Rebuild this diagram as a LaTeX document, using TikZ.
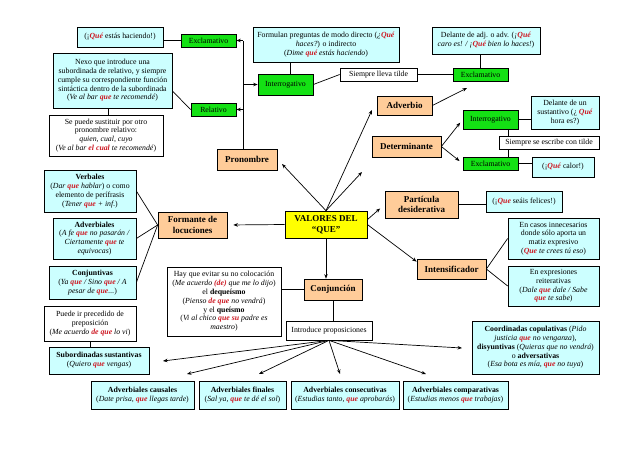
\documentclass[tikz,border=0pt]{standalone}
\usepackage{fontspec}
\setmainfont{Liberation Serif}
\usetikzlibrary{arrows.meta}
\definecolor{cajaazul}{RGB}{204,255,255}
\definecolor{cajaverde}{RGB}{20,225,20}
\definecolor{cajanaranja}{RGB}{255,204,153}
\definecolor{cajaamarilla}{RGB}{255,255,0}
\definecolor{rojoque}{RGB}{205,25,35}
\newcommand{\rojo}[1]{\textcolor{rojoque}{\textbf{\textit{#1}}}}
\begin{document}
\begin{tikzpicture}[line width=.7pt, >={Stealth[length=4.5pt,width=3.5pt]},
    every node/.style={draw, line width=.7pt, align=center, inner sep=1pt,
      font=\fontsize{7.8}{8.8}\selectfont},
    azul/.style={fill=cajaazul},
    verde/.style={fill=cajaverde},
    blanco/.style={fill=white},
    valor/.style={fill=cajanaranja, font=\fontsize{9}{10.7}\selectfont\bfseries},
    wh/.style 2 args={minimum width=#1pt, minimum height=#2pt}]
        \def\x{1pt}
        \def\y{-1pt}
        \useasboundingbox (0,0) rectangle (638*\x, 451*\y);
        % centro
        \node [fill=cajaamarilla, wh={82}{27}, font=\fontsize{9}{10.7}\selectfont\bfseries] (C0_0) at (326*\x, 224.5*\y) {VALORES DEL\\ “QUE”};
        % pronombre
        \node [valor, wh={60}{21}] (P0_0) at (247*\x, 159.5*\y) {Pronombre};
        \node [verde, wh={55}{13}] (P1_0) at (208.5*\x, 40.5*\y) {Exclamativo};
        \node [verde, wh={45}{13}] (P1_1) at (213.5*\x, 109.5*\y) {Relativo};
        \node [verde, wh={55}{21}] (P1_2) at (285.5*\x, 84.5*\y) {Interrogativo};
        \node [azul, wh={86}{20}] (P2_0) at (120*\x, 37*\y) {(¡\rojo{Qué} estás haciendo!)};
        \node [azul, wh={119}{55}] (P2_1) at (112.5*\x, 80.5*\y) {Nexo que introduce una\\ subordinada de relativo, y siempre\\ cumple su correspondiente función\\ sintáctica dentro de la subordinada\\ (\textit{Ve al bar \rojo{que} te recomendé})};
        \node [blanco, wh={114}{41}] (P2_2) at (106*\x, 135.5*\y) {Se puede sustituir por otro\\ pronombre relativo:\\ \textit{quien, cual, cuyo}\\ (\textit{Ve al bar \rojo{el cual} te recomendé})};
        \node [azul, wh={146}{35}] (P2_3) at (326*\x, 44.5*\y) {Formulan preguntas de modo directo (\textit{¿}\rojo{Qué}\\ \textit{haces?}) o indirecto\\ (\textit{Dime \rojo{qué} estás haciendo})};
        \node [blanco, wh={77}{13}] (P2_4) at (378.5*\x, 74.5*\y) {Siempre lleva tilde};
        % adverbio
        \node [valor, wh={55}{19}] (D0_0) at (404.5*\x, 105.5*\y) {Adverbio};
        \node [verde, wh={55}{13}] (D1_0) at (480.5*\x, 74.5*\y) {Exclamativo};
        \node [azul, wh={108}{27}] (D2_0) at (486*\x, 40.5*\y) {Delante de adj. o adv. (\textit{¡}\rojo{Qué}\\ \textit{caro es! / ¡\rojo{Qué} bien lo haces!})};
        % determinante
        \node [valor, wh={69}{21}] (T0_0) at (406.5*\x, 146.5*\y) {Determinante};
        \node [verde, wh={55}{19}] (T1_0) at (490.5*\x, 119.5*\y) {Interrogativo};
        \node [verde, wh={55}{13}] (T1_1) at (490.5*\x, 163.5*\y) {Exclamativo};
        \node [azul, wh={68}{33}] (T2_0) at (565*\x, 112.5*\y) {Delante de un\\ sustantivo (¿ \rojo{Qué}\\ hora es?)};
        \node [blanco, wh={100}{13}] (T2_1) at (549*\x, 142.5*\y) {Siempre se escribe con tilde};
        \node [azul, wh={62}{20}] (T2_2) at (563*\x, 167*\y) {(¡\rojo{Qué} calor!)};
        % particula
        \node [valor, wh={73}{27}] (S0_0) at (421.5*\x, 204.5*\y) {Partícula\\ desiderativa};
        \node [azul, wh={76}{21}] (S1_0) at (524*\x, 201.5*\y) {(¡\rojo{Que} seáis felices!)};
        % intensificador
        \node [valor, wh={69}{20}] (I0_0) at (451.5*\x, 269*\y) {Intensificador};
        \node [azul, wh={91}{41}] (I1_0) at (553.5*\x, 238.5*\y) {En casos innecesarios\\ donde sólo aporta un\\ matiz expresivo\\ (\textit{\rojo{Que} te crees tú eso})};
        \node [azul, wh={91}{40}] (I1_1) at (553.5*\x, 286*\y) {En expresiones\\ reiterativas\\ (\textit{Dale \rojo{que} dale / Sabe}\\ \textit{\rojo{que} te sabe})};
        % formante
        \node [valor, wh={69}{26}] (F0_0) at (192.5*\x, 225*\y) {Formante de\\ locuciones};
        \node [azul, wh={92}{42}] (F1_0) at (90*\x, 191*\y) {\textbf{Verbales}\\ (\textit{Dar \rojo{que} hablar}) o como\\ elemento de perífrasis\\ (\textit{Tener \rojo{que} + inf.})};
        \node [azul, wh={83}{41}] (F1_1) at (94.5*\x, 238.5*\y) {\textbf{Adverbiales}\\ (\textit{A fe \rojo{que} no pasarán /}\\ \textit{Ciertamente \rojo{que} te}\\ \textit{equivocas})};
        \node [azul, wh={87}{33}] (F1_2) at (92.5*\x, 282.5*\y) {\textbf{Conjuntivas}\\ (\textit{Ya \rojo{que} / Sino \rojo{que} / A}\\ \textit{pesar de \rojo{que}...})};
        % conjuncion
        \node [valor, wh={58}{21}] (K0_0) at (333*\x, 289.5*\y) {Conjunción};
        \node [blanco, wh={114}{69}] (K1_0) at (224*\x, 301.5*\y) {Hay que evitar su no colocación\\ (\textit{Me acuerdo \rojo{(de)} que me lo dijo})\\ el \textbf{dequeísmo}\\ (\textit{Pienso \rojo{de que} no vendrá})\\ y el \textbf{queísmo}\\ (\textit{Vi al chico \rojo{que su} padre es}\\ \textit{maestro})};
        \node [blanco, wh={86}{19}] (K1_1) at (329*\x, 330.5*\y) {Introduce proposiciones};
        \node [blanco, wh={92}{35}] (K2_0) at (90*\x, 323.5*\y) {Puede ir precedido de\\ preposición\\ (\textit{Me acuerdo \rojo{de que} lo vi})};
        \node [azul, wh={100}{27}] (K2_1) at (99*\x, 360.5*\y) {\textbf{Subordinadas sustantivas}\\ (\textit{Quiero \rojo{que} vengas})};
        \node [azul, wh={103}{28}] (K2_2) at (142.5*\x, 395*\y) {\textbf{Adverbiales causales}\\ (\textit{Date prisa, \rojo{que} llegas tarde})};
        \node [azul, wh={87}{28}] (K2_3) at (242.5*\x, 395*\y) {\textbf{Adverbiales finales}\\ (\textit{Sal ya, \rojo{que} te dé el sol})};
        \node [azul, wh={108}{28}] (K2_4) at (345*\x, 395*\y) {\textbf{Adverbiales consecutivas}\\ (\textit{Estudias tanto, \rojo{que} aprobarás})};
        \node [azul, wh={105}{28}] (K2_5) at (455.5*\x, 395*\y) {\textbf{Adverbiales comparativas}\\ (\textit{Estudias menos \rojo{que} trabajas})};
        \node [azul, wh={127}{53}] (K2_6) at (535.5*\x, 347.5*\y) {\textbf{Coordinadas copulativas} (\textit{Pido}\\ \textit{justicia \rojo{que} no venganza}),\\ \textbf{disyuntivas} (\textit{Quieras que no vendrá})\\ o \textbf{adversativas}\\ (\textit{Esa bota es mía, \rojo{que} no tuya})};
        % puntas libres
        \coordinate (C0_1) at (282*\x, 164*\y);
        \coordinate (C0_2) at (362*\x, 172*\y);
        \coordinate (C0_3) at (372*\x, 110*\y);
        \coordinate (P0_1) at (243*\x, 40.5*\y);
        \coordinate (D0_1) at (467*\x, 88*\y);
        \coordinate (K3_1) at (163*\x, 361*\y);
        \coordinate (K3_2) at (187*\x, 374*\y);
        \coordinate (K3_3) at (259*\x, 374*\y);
        \coordinate (K3_4) at (340*\x, 374*\y);
        \coordinate (K3_5) at (426*\x, 374*\y);
        \coordinate (K3_6) at (462*\x, 348*\y);
        % valores
        \path (C0_0.north) edge [->] (C0_1) edge [->] (C0_2) edge [->] (C0_3);
        \path ([yshift=-9pt]C0_0.north east) edge [->, shorten >=6pt] (S0_0.west);
        \path (C0_0.east) edge [->] ([yshift=-3pt]I0_0.north west);
        \path (C0_0.west) edge [->, shorten >=6pt] (F0_0.east);
        \path (C0_0.south) edge [->] (C0_0.south |- K0_0.north);
        % pronombre
        \draw (P0_0.north -| P0_1) -- (P0_1);
        \path (P0_1) edge [->] (P1_0.east);
        \path (P0_1 |- P1_1) edge [->] (P1_1.east);
        \path (P0_1 |- P1_2) edge [->] (P1_2.west);
        \draw (P1_0.west) -- (P1_0.west -| P2_0.east);
        \draw (P1_1.west) -- ([yshift=-10.5pt]P2_1.east);
        \draw ([xshift=2pt]P2_2.north) -- ([xshift=2pt]P2_2.north |- P2_1.south);
        \draw ([xshift=5pt]P1_2.north) -- ([xshift=5pt]P1_2.north |- P2_3.south);
        \draw (P1_2.east) -- (P2_4.west);
        \draw (P2_4.east) -- (D1_0.west);
        % adverbio
        \draw (D1_0.north) -- (D1_0.north |- D2_0.south);
        \path (D0_0.east) edge [->] (D0_1);
        % determinante
        \path (T0_0.east) edge [->, shorten >=4pt] (T1_0.west);
        \path (T0_0.east) edge [->, shorten >=4pt] (T1_1.west);
        \draw (T1_0.east) -- (T1_0.east -| T2_0.west);
        \draw ([xshift=18pt]T1_0.south) -- ([xshift=18pt]T1_0.south |- T2_1.north);
        \draw ([xshift=18pt]T1_1.north) -- ([xshift=18pt]T1_1.north |- T2_1.south);
        \draw (T1_1.east) -- (T1_1.east -| T2_2.west);
        % particula e intensificador
        \draw (S0_0.east) -- (S0_0.east -| S1_0.west);
        \draw (I0_0.east) -- (I1_0.west);
        \draw (I0_0.east) -- (I1_1.west);
        % formante
        \draw (F0_0.west) -- (F1_0.east);
        \draw (F0_0.west) -- (F1_1.east);
        \draw (F0_0.west) -- (F1_2.east);
        % conjuncion
        \draw (K0_0.west) -- (K0_0.west -| K1_0.east);
        \draw (K0_0.south) -- (K0_0.south |- K1_1.north);
        \draw (K2_0.south) -- (K2_0.south |- K2_1.north);
        \path (K1_1.south) edge [->] (K3_1) edge [->] (K3_2) edge [->] (K3_3)
          edge [->] (K3_4) edge [->] (K3_5) edge [->] (K3_6);
      \end{tikzpicture}
\end{document}
